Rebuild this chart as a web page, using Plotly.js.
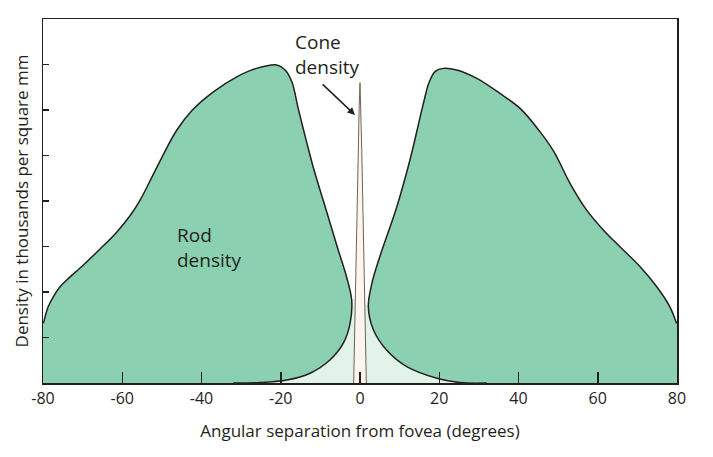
<!DOCTYPE html>
<html>
<head>
<meta charset="utf-8">
<script src="https://cdn.plot.ly/plotly-3.0.1.min.js"></script>
<style>html,body{margin:0;padding:0;background:#fff;}#chart{width:713px;height:457px;}</style>
</head>
<body>
<div id="chart"></div>
<script>
// Rod density, left lobe: outer curve from -80 to the peak, down to the foveal cusp, then the inner curve back to the baseline
const rodLeftX = [-79.9, -78.7, -77.4, -75.7, -74.0, -69.8, -65.6, -61.4, -58.0, -55.5, -53.0, -49.6, -46.3, -42.3, -37.0, -31.1, -26.1, -21.0, -18.9, -17.2, -15.6, -13.5, -11.6, -9.3, -5.5, -3.4, -2.1, -2.5, -4.2, -7.6, -12.6, -18.5, -25.2, -32];
const rodLeftY = [26.2, 33.5, 37.9, 42.3, 45.3, 51.9, 58.9, 66.3, 73.6, 80.4, 88.8, 100.5, 111.0, 120.0, 128.0, 134.6, 138.3, 139.8, 137.6, 132.4, 120.7, 106.1, 93.6, 80.4, 58.5, 46.7, 36.5, 26.2, 17.5, 10.1, 4.3, 1.3, 0.2, 0];
// Rod density, right lobe: inner curve from the baseline up to the cusp, then the outer curve out to +80
const rodRightX = [32, 25.2, 19.4, 11.8, 6.7, 3.4, 2.1, 3.0, 5.0, 9.3, 12.6, 16.0, 17.4, 19.0, 21.0, 24.4, 29.5, 35.3, 40.4, 45.4, 49.0, 53.0, 57.2, 61.4, 65.6, 70.7, 74.9, 78.2, 79.9];
const rodRightY = [0, 0.2, 2.1, 7.2, 14.5, 23.3, 33.5, 43.8, 55.5, 77.5, 98.0, 122.9, 132.0, 137.0, 138.3, 137.6, 133.9, 127.3, 120.7, 110.5, 101.5, 87.8, 76.0, 67.3, 59.9, 51.1, 42.3, 33.5, 26.2];
// Pale region beneath the foveal slopes of the rod curve
const paleX = [-25.2, -18.5, -12.6, -7.6, -4.2, -2.5, -2.1, 0, 2.1, 3.4, 6.7, 11.8, 19.4, 25.2];
const paleY = [0, 1.3, 4.3, 10.1, 17.5, 26.2, 36.5, 36, 33.5, 23.3, 14.5, 7.2, 2.1, 0];
// Cone density spike at the fovea
const coneX = [-1.6, -1.35, -1.0, -0.7, -0.45, -0.2, 0, 0.2, 0.45, 0.7, 1.0, 1.35, 1.6];
const coneY = [0, 25, 55, 80, 102, 122, 132, 122, 102, 80, 55, 25, 0];
// Axis ticks
const xTicks = [-80, -60, -40, -20, 0, 20, 40, 60, 80];
const xTickText = ['-80', '-60', '-40', '-20', '0', '20', '40', '60', '80'];
const yTicks = [20, 40, 60, 80, 100, 120, 140];

const ink = '#231f20';
const rodGreen = '#8bd0b0';
const paleGreen = '#e2f3ea';
const cream = '#fdf6ee';

// closed fill polygons built from the curves plus the baseline / plot edge
const leftFillX = [-80, -80].concat(rodLeftX, [-80]);
const leftFillY = [0, 26.2].concat(rodLeftY, [0]);
const rightFillX = rodRightX.concat([80, 80, 32]);
const rightFillY = rodRightY.concat([26.2, 0, 0]);

const sp = {shape: 'spline', smoothing: 1.0};

const traces = [
  {x: paleX, y: paleY, type: 'scatter', mode: 'lines', fill: 'toself', fillcolor: paleGreen,
   line: Object.assign({width: 0, color: paleGreen}, sp), hoverinfo: 'skip', showlegend: false},
  {x: coneX, y: coneY, type: 'scatter', mode: 'lines', fill: 'toself', fillcolor: cream,
   line: {width: 1, color: '#6e6258'}, hoverinfo: 'skip', showlegend: false},
  {x: leftFillX, y: leftFillY, type: 'scatter', mode: 'lines', fill: 'toself', fillcolor: rodGreen,
   line: Object.assign({width: 0, color: rodGreen}, sp), hoverinfo: 'skip', showlegend: false},
  {x: rightFillX, y: rightFillY, type: 'scatter', mode: 'lines', fill: 'toself', fillcolor: rodGreen,
   line: Object.assign({width: 0, color: rodGreen}, sp), hoverinfo: 'skip', showlegend: false},
  {x: rodLeftX, y: rodLeftY, type: 'scatter', mode: 'lines',
   line: Object.assign({width: 1.5, color: ink}, sp), hoverinfo: 'skip', showlegend: false},
  {x: rodRightX, y: rodRightY, type: 'scatter', mode: 'lines',
   line: Object.assign({width: 1.5, color: ink}, sp), hoverinfo: 'skip', showlegend: false}
];

const layout = {
  width: 713, height: 457,
  margin: {l: 43, r: 36, t: 19, b: 74},
  paper_bgcolor: '#ffffff', plot_bgcolor: '#ffffff',
  font: {family: 'Open Sans, sans-serif', color: ink},
  showlegend: false,
  xaxis: {
    range: [-80, 80], tickvals: xTicks, ticktext: xTickText,
    ticks: 'inside', ticklen: 11, tickwidth: 1.5, tickcolor: ink,
    showline: true, linecolor: ink, linewidth: 1.5, mirror: true,
    showgrid: false, zeroline: false,
    tickfont: {size: 16, color: ink},
    title: {text: 'Angular separation from fovea (degrees)', font: {size: 17, color: ink}, standoff: 17},
    automargin: false
  },
  yaxis: {
    range: [0, 160], tickvals: yTicks, showticklabels: false,
    ticks: 'inside', ticklen: 6, tickwidth: 1.5, tickcolor: ink,
    showline: true, linecolor: ink, linewidth: 1.5, mirror: true,
    showgrid: false, zeroline: false,
    title: {text: 'Density in thousands per square mm', font: {size: 17, color: ink}, standoff: 8},
    automargin: false
  },
  annotations: [
    {x: -16.9, y: 144.2, xref: 'x', yref: 'y', text: 'Cone<br>density', showarrow: false,
     xanchor: 'left', yanchor: 'middle', align: 'left', font: {size: 19, color: ink}},
    {x: -46.7, y: 59.6, xref: 'x', yref: 'y', text: 'Rod<br>density', showarrow: false,
     xanchor: 'left', yanchor: 'middle', align: 'left', font: {size: 19, color: ink}},
    {x: -1.26, y: 117.8, xref: 'x', yref: 'y', ax: -9.8, ay: 131.9, axref: 'x', ayref: 'y',
     text: '', showarrow: true, arrowhead: 2, arrowsize: 1, arrowwidth: 1.5, arrowcolor: ink}
  ]
};

Plotly.newPlot('chart', traces, layout, {displayModeBar: false, staticPlot: true});
</script>
</body>
</html>
